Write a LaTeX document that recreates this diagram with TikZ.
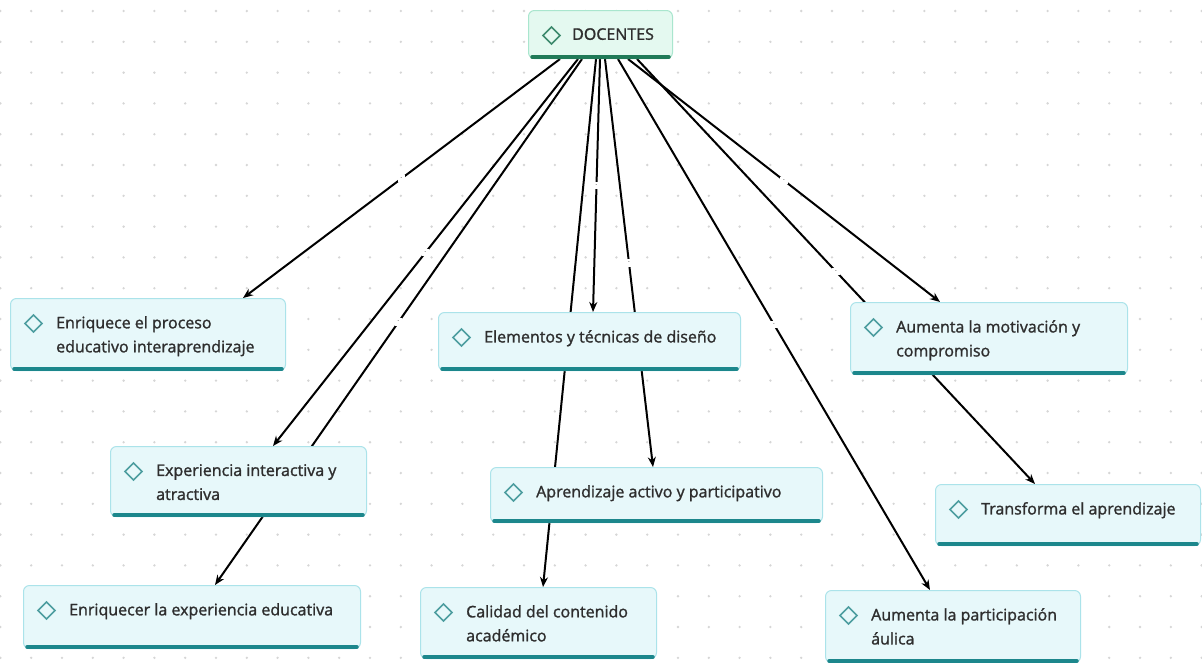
\documentclass[tikz,border=0pt]{standalone}
\usepackage{fontspec}
\setmainfont{Open Sans}
\newfontfamily\boxfont{Open Sans}[FakeBold=1.4]
\usetikzlibrary{arrows.meta,calc}

\definecolor{boxfill}{HTML}{E7F8FA}
\definecolor{boxline}{HTML}{ABE3EA}
\definecolor{boxbar}{HTML}{1C878C}
\definecolor{docfill}{HTML}{E4F9F0}
\definecolor{docline}{HTML}{A9E6CE}
\definecolor{docbar}{HTML}{207A58}
\definecolor{diateal}{HTML}{4E9EA0}
\definecolor{diagreen}{HTML}{3E8A6E}
\definecolor{txtcol}{HTML}{2E2E2E}
\definecolor{dotcol}{HTML}{D6D6D6}

\pgfdeclarelayer{background}
\pgfsetlayers{background,main}

\newcommand{\diamark}[1]{\draw[#1, sharp corners, line width=1.5pt, line join=miter]
    ([shift={(23pt,-25pt)}]path picture bounding box.north west)
    +(-8.5pt,0) -- +(0,8.5pt) -- +(8.5pt,0) -- +(0,-8.5pt) -- cycle;}

\tikzset{
    box/.style={draw=boxline, fill=boxfill, line width=1pt, rounded corners=6pt,
        anchor=north west, inner sep=0pt, path picture={\diamark{diateal}}},
    docbox/.style={box, draw=docline, fill=docfill, path picture={\diamark{diagreen}}},
    txt/.style={anchor=north west, inner sep=0pt, align=left, text=txtcol,
        font=\boxfont\fontsize{16}{24}\selectfont},
    link/.style={draw=black, line width=2pt, -{Stealth[length=10pt,width=8pt]}},
    gapmark/.style={fill=white, inner sep=3pt, font=\tiny, text=black},
    underbar/.style={line width=3.5pt, line cap=round},
}

\begin{document}
\begin{tikzpicture}[x=1pt,y=-1pt]

    \useasboundingbox (0,0) rectangle (1202,662);

    % top node
    \node[docbox, minimum width=144pt, minimum height=48pt] (doc) at (528,10) {};
    \node[txt] (doc-t) at ([shift={(44pt,-18pt)}]doc.north west) {DOCENTES};
    \draw[underbar, docbar] ([shift={(4pt,2pt)}]doc.south west) -- ([shift={(-4pt,2pt)}]doc.south east);

    % boxes below
    \foreach \n/\x/\y/\w/\h/\t in {
        enr/10/298/275/72/{Enriquece el proceso\\educativo interaprendizaje},
        ele/438/312/302/58/{Elementos y técnicas de diseño},
        mot/850/302/277/72/{Aumenta la motivación y\\compromiso},
        exp/110/446/256/70/{Experiencia interactiva y\\atractiva},
        apr/490/467/332/55/{Aprendizaje activo y participativo},
        tra/935/484/265/61/{Transforma el aprendizaje},
        enx/23/585/337/63/{Enriquecer la experiencia educativa},
        cal/420/587/236/71/{Calidad del contenido\\académico},
        par/825/590/255/72/{Aumenta la participación\\áulica}} {
        \node[box, minimum width=\w pt, minimum height=\h pt] (\n) at (\x,\y) {};
        \node[txt] (\n-t) at ([shift={(46pt,-18pt)}]\n.north west) {\t};
        \draw[underbar, boxbar] ([shift={(4pt,2pt)}]\n.south west) -- ([shift={(-4pt,2pt)}]\n.south east);
    }

    \begin{pgfonlayer}{background}
        \fill[white] (0,0) rectangle (1202,662);
        \foreach \i in {0,...,39} {
            \foreach \j in {0,...,21} {
                \fill[dotcol] (0.4+30.8*\i, 11+30.8*\j) circle (1.3pt);}}

        % connectors, drawn under the boxes
        \foreach \s/\n/\e in {32/enr/233, 50/exp/163, 54/enx/192, 68/cal/123,
                72/ele/155, 77/apr/163, 90/par/105, 100/mot/90, 109/tra/100} {
            \draw[link] ([xshift=\s pt]doc.south west) -- node[gapmark] (g-\n) {-} ([xshift=\e pt]\n.north west);}
    \end{pgfonlayer}

\end{tikzpicture}
\end{document}
